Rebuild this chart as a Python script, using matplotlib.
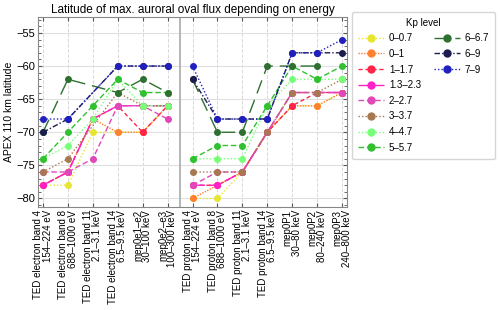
import numpy as np
import matplotlib
matplotlib.use('Agg')
import matplotlib.pyplot as plt
from matplotlib.lines import Line2D

plt.rcParams['font.family'] = ['Liberation Sans', 'DejaVu Sans']

# channel labels
electron_labels = ['TED electron band 4\n154–224 eV', 'TED electron band 8\n688–1000 eV',
                   'TED electron band 11\n2.1–3.1 keV', 'TED electron band 14\n6.5–9.5 keV',
                   'mep0e1–e2\n30–100 keV', 'mep0e2–e3\n100–300 keV']
proton_labels = ['TED proton band 4\n154–224 eV', 'TED proton band 8\n688–1000 eV',
                 'TED proton band 11\n2.1–3.1 keV', 'TED proton band 14\n6.5–9.5 keV',
                 'mep0P1\n30–80 keV', 'mep0P2\n80–240 keV', 'mep0P3\n240–800 keV']

kp_levels = ['0–0.7', '0–1', '1–1.7', '1.3–2.3', '2–2.7', '3–3.7',
             '4–4.7', '5–5.7', '6–6.7', '6–9', '7–9']

nan = np.nan
# latitude of max flux, electron channels
electron_lat = [
    [-78, -78, -70, -70, -70, -66],
    [-78, -76, -68, -70, -70, -66],
    [-78, -76, -68, -66, -70, -66],
    [-78, -76, -68, -66, -66, -66],
    [-76, -76, -74, -66, -66, -68],
    [-76, -74, nan, -64, -66, -66],
    [-74, -72, -68, -62, -66, -66],
    [-74, -70, -66, -62, -64, -64],
    [-70, -62, nan, -64, -62, -64],
    [-70, -68, nan, -60, -60, -60],
    [-68, -68, nan, -60, -60, -60],
]
# latitude of max flux, proton channels
proton_lat = [
    [-80, -80, -76, -70, -66, -66, -64],
    [-80, -78, -76, -70, -66, -66, -64],
    [-78, -78, -76, -70, -66, -64, -64],
    [-78, -78, -76, -70, -64, -64, -64],
    [-78, -76, -76, -70, -64, -64, -64],
    [-76, -76, -76, -70, -64, -64, -62],
    [-74, -74, -74, -66, -62, -62, -62],
    [-74, -72, -72, -66, -60, -62, -60],
    [-62, -70, -70, -60, -60, -60, nan],
    [-62, -68, -68, -68, -58, -58, -58],
    [-60, -68, -68, -68, -58, -58, -56],
]

colors = ['#e6e630', '#ff8030', '#ff2448', '#ff20c8', '#e048b8', '#a87850',
          '#78ff78', '#30c030', '#2e7030', '#1c1c50', '#2020c0']
styles = [(0, (1, 1.5)), (0, (1, 1)), (0, (3, 2)), (0, (9, 3)), (0, (4, 2)),
          (0, (1, 1.5)), (0, (1, 1.5)), (0, (4, 2)), (0, (10, 5)),
          (0, (4, 1.5, 1, 1.5)), (0, (1, 1.5))]

fig = plt.figure(figsize=(5, 3.1), dpi=100)
ax = fig.add_axes([0.076, 0.332, 0.618, 0.613])

xe = np.arange(len(electron_labels))
xp = np.arange(len(proton_labels)) + len(electron_labels)

handles = []
for i, kp in enumerate(kp_levels):
    for xs, ys in ((xe, electron_lat[i]), (xp, proton_lat[i])):
        ys = np.array(ys, dtype=float)
        ok = ~np.isnan(ys)
        ln, = ax.plot(xs[ok], ys[ok], color=colors[i], linestyle=styles[i], lw=1,
                      marker='o', ms=4, mec=colors[i], mfc=colors[i])
    handles.append(ln)

ax.axvline(len(electron_labels) - 0.5, color='#b0b0b0', lw=1.3)

ax.set_xlim(-0.2, 12.2)
ax.set_ylim(-81.3, -52.6)
ax.set_xticks(np.arange(13))
ax.set_xticklabels(electron_labels + proton_labels, rotation=90, fontsize=7,
                   multialignment='right', linespacing=0.9)
ax.set_yticks([-80, -75, -70, -65, -60, -55])
ax.set_yticks(np.arange(-81, -52), minor=True)
ax.tick_params(axis='both', direction='in', top=True, right=True, labelsize=8,
               length=3, color='#555555', pad=2)
ax.tick_params(axis='x', labelsize=7)
ax.tick_params(axis='y', which='minor', direction='in', right=True, length=2,
               color='#555555')
ax.grid(axis='x', color='#d8d8d8', ls='--', lw=0.7)
ax.grid(axis='y', color='#e0e0e0', lw=0.8)
ax.set_axisbelow(True)
for s in ax.spines.values():
    s.set_color('#888888')

ax.set_ylabel('APEX 110 km latitude', fontsize=7.5, labelpad=2)
ax.set_title('Latitude of max. auroral oval flux depending on energy', fontsize=8.5, pad=3)

# pad with blank entries so the first column holds eight levels
blank = Line2D([], [], linestyle='none')
leg_handles = handles + [blank] * 5
leg_labels = kp_levels + [''] * 5
leg = ax.legend(leg_handles, leg_labels, loc='upper left', bbox_to_anchor=(0.704, 0.962),
                bbox_transform=fig.transFigure, ncol=2, title='Kp level',
                fontsize=7, title_fontsize=7, markerscale=1.25, handlelength=2.7,
                handletextpad=0.5, columnspacing=1.3, labelspacing=0.58,
                borderpad=0.6, borderaxespad=0, fancybox=True, edgecolor='#cccccc')

fig.savefig('out.png', dpi=100)
